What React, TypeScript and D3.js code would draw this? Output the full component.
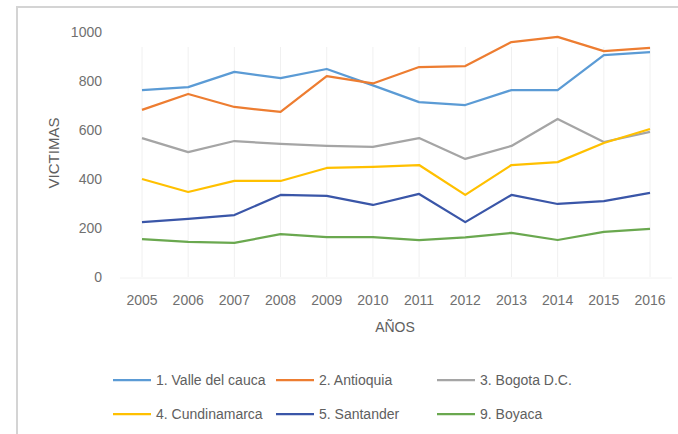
import React from "react";
import * as d3 from "d3";

const YEARS = ["2005", "2006", "2007", "2008", "2009", "2010", "2011", "2012", "2013", "2014", "2015", "2016"];
const Y_TICKS = [0, 200, 400, 600, 800, 1000];

const VALLE = [763, 775, 837, 812, 849, 782, 714, 702, 763, 763, 906, 918];
const ANTIOQUIA = [682, 747, 694, 674, 820, 790, 857, 861, 959, 980, 922, 935];
const BOGOTA = [567, 510, 555, 543, 535, 531, 567, 482, 535, 645, 551, 592];
const CUNDINAMARCA = [400, 347, 392, 392, 445, 449, 457, 335, 457, 469, 547, 604];
const SANTANDER = [224, 237, 253, 335, 331, 294, 339, 224, 335, 298, 310, 343];
const BOYACA = [155, 143, 139, 175, 163, 163, 151, 162, 180, 151, 184, 196];

const SERIES_NAMES = ["1. Valle del cauca", "2. Antioquia", "3. Bogota D.C.", "4. Cundinamarca", "5. Santander", "9. Boyaca"];
const SERIES_VALUES = [VALLE, ANTIOQUIA, BOGOTA, CUNDINAMARCA, SANTANDER, BOYACA];
const COLORS = ["#5B9BD5", "#ED7D31", "#A5A5A5", "#FFC000", "#3A56A8", "#6AA84F"];

const W = 678;
const H = 434;
const FONT = "'Liberation Sans', Arial, sans-serif";

export default function App() {
  // área del gráfico
  const x = d3.scalePoint<string>().domain(YEARS).range([142, 650]);
  const y = d3.scaleLinear().domain([0, 1000]).range([277, 32]);

  const line = d3
    .line<number>()
    .x((_, i) => x(YEARS[i]) as number)
    .y((d) => y(d));

  const legendCols = [113, 276, 437];
  const legendRows = [380, 414];

  return (
    <svg
      width={W}
      height={H}
      style={{ position: "absolute", left: 0, top: 0, background: "#fff" }}
      fontFamily={FONT}
    >
      <rect x={17} y={7} width={720} height={500} fill="#fff" stroke="#d4d4d4" strokeWidth={2} />

      {/* líneas verticales tenues */}
      {YEARS.map((yr) => (
        <line
          key={yr}
          x1={x(yr)}
          x2={x(yr)}
          y1={y(1000) + 15}
          y2={y(0)}
          stroke="#f0f0f0"
          strokeWidth={1}
        />
      ))}
      <line x1={120} x2={672} y1={y(0) + 1} y2={y(0) + 1} stroke="#f2f2f2" />

      {/* eje Y */}
      {Y_TICKS.map((t) => (
        <text
          key={t}
          x={102}
          y={y(t)}
          dy="0.35em"
          textAnchor="end"
          fontSize={14}
          fill="#707070"
        >
          {t}
        </text>
      ))}

      {/* eje X */}
      {YEARS.map((yr) => (
        <text key={yr} x={x(yr)} y={300} dy="0.35em" textAnchor="middle" fontSize={14} fill="#707070">
          {yr}
        </text>
      ))}

      <text
        transform={`translate(54,153) rotate(-90)`}
        textAnchor="middle"
        dy="0.35em"
        fontSize={15}
        fill="#606060"
      >
        VICTIMAS
      </text>
      <text x={395} y={327} dy="0.35em" textAnchor="middle" fontSize={14} fill="#606060">
        AÑOS
      </text>

      {/* series */}
      {SERIES_VALUES.map((vals, i) => (
        <path
          key={SERIES_NAMES[i]}
          d={line(vals) ?? ""}
          fill="none"
          stroke={COLORS[i]}
          strokeWidth={2.25}
          strokeLinejoin="round"
        />
      ))}

      {/* leyenda */}
      {SERIES_NAMES.map((name, i) => {
        const lx = legendCols[i % 3];
        const ly = legendRows[Math.floor(i / 3)];
        return (
          <g key={name}>
            <line x1={lx} x2={lx + 38} y1={ly} y2={ly} stroke={COLORS[i]} strokeWidth={2.25} />
            <text x={lx + 43} y={ly} dy="0.35em" fontSize={14} fill="#606060">
              {name}
            </text>
          </g>
        );
      })}
    </svg>
  );
}
